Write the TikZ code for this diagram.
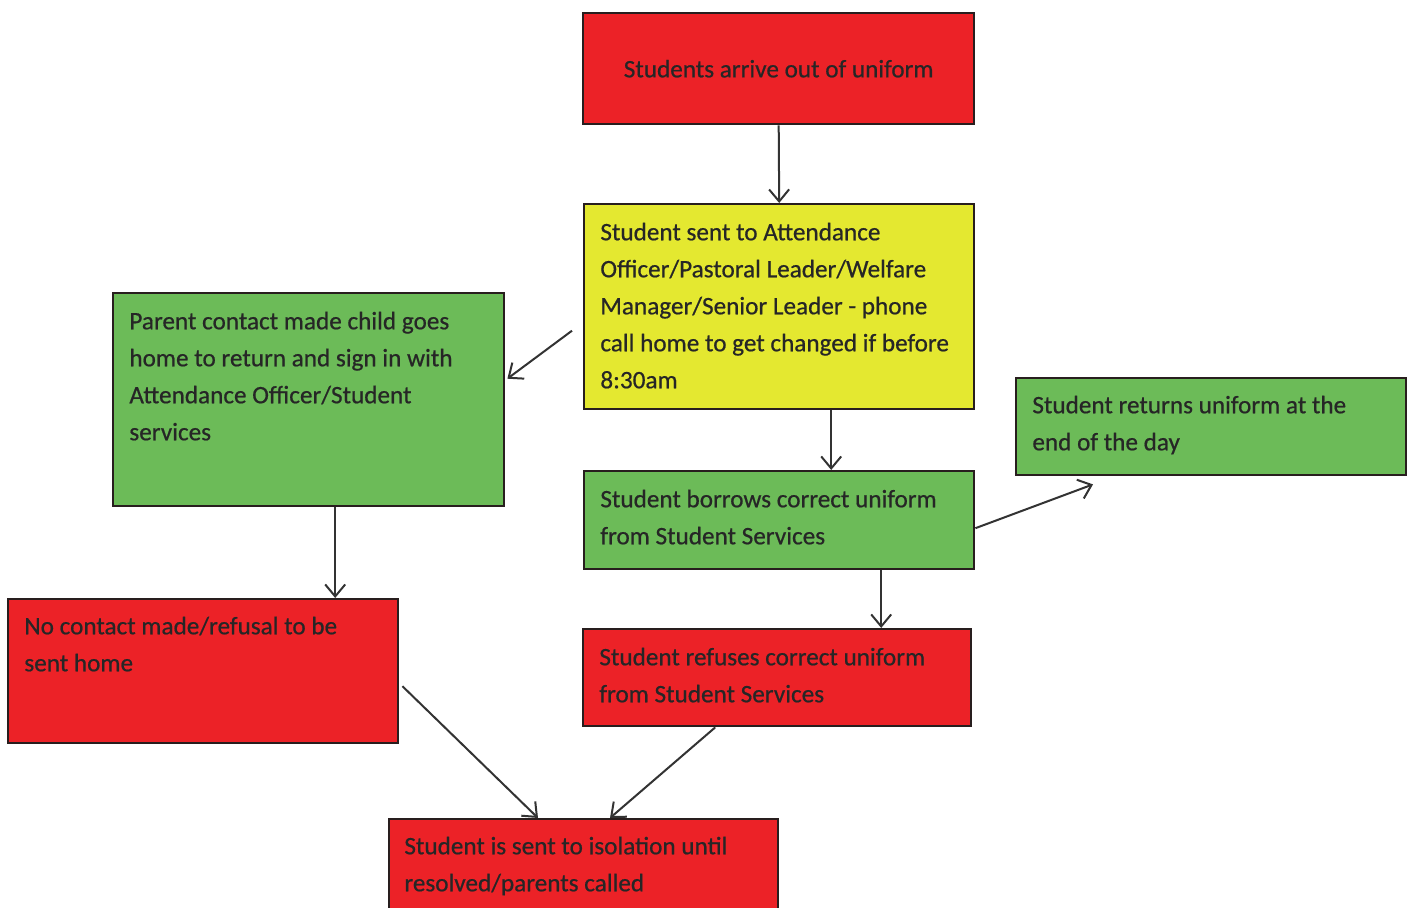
\documentclass[tikz,border=0pt]{standalone}
\usepackage{fontspec}
\setmainfont{Carlito}
\newfontfamily\boxfont[FakeBold=0.6]{Carlito}
\usetikzlibrary{arrows.meta,calc}
\definecolor{bred}{RGB}{236,34,39}
\definecolor{byellow}{RGB}{228,232,48}
\definecolor{bgreen}{RGB}{108,187,88}
\definecolor{edge}{RGB}{40,30,30}
\tikzset{
  x=0.5pt, y=-0.5pt,
  box/.style={draw=edge, line width=1.2pt, anchor=north west, inner sep=0pt},
  txt/.style={anchor=north west, align=left, inner sep=0pt, text=black!85,
    font=\boxfont\fontsize{12.6pt}{18.5pt}\selectfont},
  arr/.style={draw=black!80, line width=1pt, -{Straight Barb[length=6pt,width=10pt,line width=1pt]}}
}
\begin{document}
\begin{tikzpicture}
\clip (0,0) rectangle (1410,908);
\fill[white] (0,0) rectangle (1410,908);
% boxes
\node[box, fill=bred, minimum width=195.5pt, minimum height=55.5pt,
  font=\boxfont\fontsize{12.6pt}{18.5pt}\selectfont, text=black!85] (n1) at (582,12) {Students arrive out of uniform};
\node[box, fill=byellow, minimum width=195pt, minimum height=102.5pt] (n2) at (583,203) {};
\node[box, fill=bgreen, minimum width=195.5pt, minimum height=106.5pt] (n3) at (112,292) {};
\node[box, fill=bgreen, minimum width=195pt, minimum height=48.5pt] (n4) at (1015,377) {};
\node[box, fill=bgreen, minimum width=195pt, minimum height=49pt] (n5) at (583,470) {};
\node[box, fill=bred, minimum width=195pt, minimum height=72pt] (n6) at (7,598) {};
\node[box, fill=bred, minimum width=194pt, minimum height=48.5pt] (n7) at (582,628) {};
\node[box, fill=bred, minimum width=194.5pt, minimum height=61pt] (n8) at (388,818) {};
% texts
\node[txt] (t2) at ($(n2.north west)+(17,11)$) {\strut Student sent to Attendance\\Officer/Pastoral Leader/Welfare\\Manager/Senior Leader - phone\\call home to get changed if before\\8:30am};
\node[txt] (t3) at ($(n3.north west)+(17,11)$) {\strut Parent contact made child goes\\home to return and sign in with\\Attendance Officer/Student\\services};
\node[txt] (t4) at ($(n4.north west)+(17,10)$) {\strut Student returns uniform at the\\end of the day};
\node[txt] (t5) at ($(n5.north west)+(17,11)$) {\strut Student borrows correct uniform\\from Student Services};
\node[txt] (t6) at ($(n6.north west)+(17,10)$) {\strut No contact made/refusal to be\\sent home};
\node[txt] (t7) at ($(n7.north west)+(17,11)$) {\strut Student refuses correct uniform\\from Student Services};
\node[txt] (t8) at ($(n8.north west)+(16,10)$) {\strut Student is sent to isolation until\\resolved/parents called};
% connectors
\draw[arr] (n1.south) -- (n2.north);
\draw[arr] ($(n2.west)+(-11,24)$) -- ($(n3.east)+(2,-21)$);
\coordinate (a25) at ($(n2.south)+(52,0)$);
\draw[arr] (a25) -- (a25 |- n5.north);
\draw[arr] ($(n5.east)+(0,8)$) -- ($(n4.south west)+(78,8)$);
\coordinate (a57) at ($(n5.south)+(102,0)$);
\draw[arr] (a57) -- (a57 |- n7.north);
\coordinate (a36) at ($(n3.south)+(26.5,0)$);
\draw[arr] (a36) -- (a36 |- n6.north);
\draw[arr] ($(n6.east)+(3,15)$) -- ($(n8.north west)+(150,0)$);
\draw[arr] ($(n7.south)+(-62,0)$) -- ($(n8.north west)+(222,0)$);
\end{tikzpicture}
\end{document}
